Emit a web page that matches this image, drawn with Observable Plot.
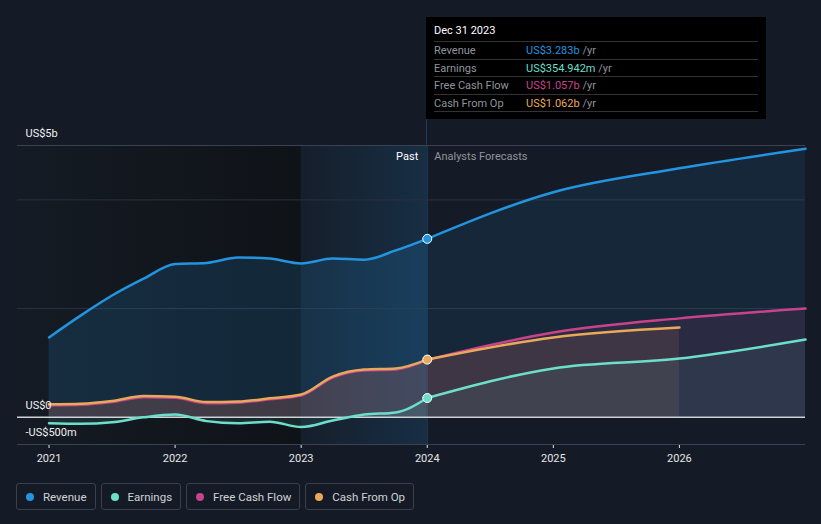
<!DOCTYPE html>
<html>
<head>
<meta charset="utf-8">
<script src="https://cdn.jsdelivr.net/npm/d3@7"></script>
<script src="https://cdn.jsdelivr.net/npm/@observablehq/plot@0.6"></script>
<style>
  html, body { margin: 0; padding: 0; background: #151b26; }
  body { width: 821px; height: 524px; position: relative; overflow: hidden; font-family: Roboto, "Open Sans", sans-serif; }
  #chart { position: absolute; left: 0; top: 0; }
  .tip { position: absolute; left: 426px; top: 17px; width: 340px; height: 102px; background: #000; }
  .tip .title { position: absolute; left: 8px; top: 7px; color: #fff; font-size: 11px; }
  .tip .row { position: absolute; left: 8px; width: 324px; height: 17px; border-top: 1px solid #333; font-size: 11px; line-height: 17px; color: #8f949c; }
  .tip .row .v { position: absolute; left: 92px; }
  .tip .row .u { color: #8f949c; }
  .vline { position: absolute; left: 426px; top: 17px; width: 1px; height: 128px; background: #1f3d5a; }
  .legend { position: absolute; left: 16px; top: 483px; display: flex; gap: 5px; }
  .legend .item { height: 27px; border: 1px solid #3a3f4a; border-radius: 3px; display: flex; align-items: center; padding: 0 8px 0 9px; color: #cfd2d6; font-size: 11.5px; box-sizing: border-box; }
  .legend .dot { width: 8px; height: 8px; border-radius: 50%; margin-right: 9px; }
</style>
</head>
<body>
<div id="chart"></div>
<div class="vline"></div>
<div class="tip" id="tip"></div>
<div class="legend" id="legend"></div>
<script>
// ---- data (values in US$ billions) ----
const seriesNames = ["Revenue", "Earnings", "Free Cash Flow", "Cash From Op"];
const seriesColors = ["#2394df", "#6cdfcb", "#c9438a", "#e8a95b"];

const pastYears = [2021, 2021.25, 2021.5, 2021.75, 2022, 2022.25, 2022.5, 2022.75, 2023, 2023.25, 2023.5, 2023.75, 2024];
const revenuePast  = [1.47, 1.87, 2.24, 2.55, 2.82, 2.84, 2.94, 2.92, 2.83, 2.92, 2.90, 3.07, 3.283];
const earningsPast = [-0.11, -0.12, -0.09, 0.0, 0.05, -0.07, -0.11, -0.08, -0.18, -0.06, 0.05, 0.09, 0.355];
const fcfPast      = [0.22, 0.23, 0.28, 0.37, 0.36, 0.26, 0.27, 0.33, 0.40, 0.73, 0.86, 0.88, 1.057];
const cfoPast      = [0.24, 0.25, 0.30, 0.39, 0.38, 0.28, 0.29, 0.35, 0.42, 0.75, 0.88, 0.90, 1.062];

const fcstYears = [2024, 2025, 2026, 2027];
const revenueFcst  = [3.283, 4.14, 4.58, 4.94];
const earningsFcst = [0.355, 0.90, 1.08, 1.43];
const fcfFcst      = [1.057, 1.56, 1.82, 2.00];
const cfoFcstYears = [2024, 2025, 2026];
const cfoFcst      = [1.062, 1.47, 1.65];

const xTicks = [2021, 2022, 2023, 2024, 2025, 2026];
const gridValues = [2, 4, 5];
const yLabels = [{v: 5, t: "US$5b"}, {v: 0, t: "US$0"}, {v: -0.5, t: "-US$500m"}];
const tipDate = "Dec 31 2023";
const tipValues = ["US$3.283b", "US$354.942m", "US$1.057b", "US$1.062b"];
const xDomain = [2020.75, 2027];
const yDomain = [-0.5, 5];
const pastStart = 2020.75, highlightStart = 2023, nowYear = 2024;

// ---- build tables ----
const toRows = (xs, ys) => xs.map((x, i) => ({x, y: ys[i]}));
const rev = toRows(pastYears, revenuePast), revF = toRows(fcstYears, revenueFcst);
const ear = toRows(pastYears, earningsPast), earF = toRows(fcstYears, earningsFcst);
const fcf = toRows(pastYears, fcfPast), fcfF = toRows(fcstYears, fcfFcst);
const cfo = toRows(pastYears, cfoPast), cfoF = toRows(cfoFcstYears, cfoFcst);
const curve = "monotone-x";

const area = (data, color, op) => Plot.areaY(data, {x: "x", y1: 0, y2: "y", fill: color, fillOpacity: op, curve});
const line = (data, color) => Plot.line(data, {x: "x", y: "y", stroke: color, strokeWidth: 2.5, curve});

const plot = Plot.plot({
  width: 821,
  height: 470,
  marginLeft: 17,
  marginRight: 16,
  marginTop: 145,
  marginBottom: 26,
  style: {background: "transparent", color: "#e6e6e6", fontFamily: "Roboto, sans-serif", fontSize: "11px"},
  x: {domain: xDomain, ticks: xTicks, tickFormat: d => String(d), tickSize: 4, tickPadding: 6, label: null},
  y: {domain: yDomain, axis: null},
  marks: [
    Plot.rect([{x1: pastStart, x2: highlightStart}], {x1: "x1", x2: "x2", y1: yDomain[0], y2: yDomain[1], fill: "url(#pastGrad)"}),
    Plot.rect([{x1: highlightStart, x2: nowYear}], {x1: "x1", x2: "x2", y1: yDomain[0], y2: yDomain[1], fill: "url(#hiGrad)"}),
    Plot.ruleY(gridValues, {stroke: "#2a313d", strokeWidth: 1}),
    Plot.ruleY([yDomain[1]], {stroke: "#3b4150", strokeWidth: 1}),
    Plot.ruleY([yDomain[0]], {stroke: "#3b4150", strokeWidth: 1}),
    Plot.ruleX([nowYear], {stroke: "#1f3d5a", strokeWidth: 1}),
    area(rev, seriesColors[0], 0.16), area(revF, seriesColors[0], 0.1),
    area(fcf, seriesColors[2], 0.12), area(fcfF, seriesColors[2], 0.12),
    area(cfo, seriesColors[3], 0.12), area(cfoF, seriesColors[3], 0.1),
    area(ear, seriesColors[1], 0.1), area(earF, seriesColors[1], 0.08),
    Plot.ruleY([0], {stroke: "#cfd2d6", strokeWidth: 1.5}),
    line(fcf, seriesColors[2]), line(fcfF, seriesColors[2]),
    line(cfo, seriesColors[3]), line(cfoF, seriesColors[3]),
    line(ear, seriesColors[1]), line(earF, seriesColors[1]),
    line(rev, seriesColors[0]), line(revF, seriesColors[0]),
    Plot.dot([rev[rev.length - 1], cfo[cfo.length - 1], ear[ear.length - 1]], {x: "x", y: "y", r: 4.5, fill: (d, i) => [seriesColors[0], seriesColors[3], seriesColors[1]][i], stroke: "#ffffff", strokeWidth: 1}),
    Plot.text(yLabels, {y: "v", text: "t", frameAnchor: "left", dx: 8, dy: -12, textAnchor: "start", fill: "#f0f0f0", fontSize: 11}),
    Plot.text(["Past"], {x: nowYear, frameAnchor: "top", dx: -9, dy: 7, textAnchor: "end", fill: "#ffffff", fontSize: 11}),
    Plot.text(["Analysts Forecasts"], {x: nowYear, frameAnchor: "top", dx: 7, dy: 7, textAnchor: "start", fill: "#8f949c", fontSize: 11})
  ]
});

// gradient defs
const defs = d3.select(plot).insert("defs", ":first-child");
const g1 = defs.append("linearGradient").attr("id", "pastGrad").attr("x1", "0").attr("x2", "1").attr("y1", "0").attr("y2", "0");
g1.append("stop").attr("offset", "0").attr("stop-color", "#151b24");
g1.append("stop").attr("offset", "1").attr("stop-color", "#0f1318");
const g2 = defs.append("linearGradient").attr("id", "hiGrad").attr("x1", "0").attr("x2", "1").attr("y1", "0").attr("y2", "0");
g2.append("stop").attr("offset", "0").attr("stop-color", "#2394df").attr("stop-opacity", "0.03");
g2.append("stop").attr("offset", "1").attr("stop-color", "#2394df").attr("stop-opacity", "0.16");

document.getElementById("chart").appendChild(plot);

// tooltip
const tip = document.getElementById("tip");
tip.innerHTML = `<div class="title">${tipDate}</div>` + seriesNames.map((n, i) =>
  `<div class="row" style="top:${24 + i * 17.5}px">${n}<span class="v"><span style="color:${seriesColors[i]}">${tipValues[i]}</span> <span class="u">/yr</span></span></div>`
).join("") + `<div class="row" style="top:${24 + 4 * 17.5}px"></div>`;

// legend
document.getElementById("legend").innerHTML = seriesNames.map((n, i) =>
  `<div class="item"><span class="dot" style="background:${seriesColors[i]}"></span>${n}</div>`
).join("");
</script>
</body>
</html>
